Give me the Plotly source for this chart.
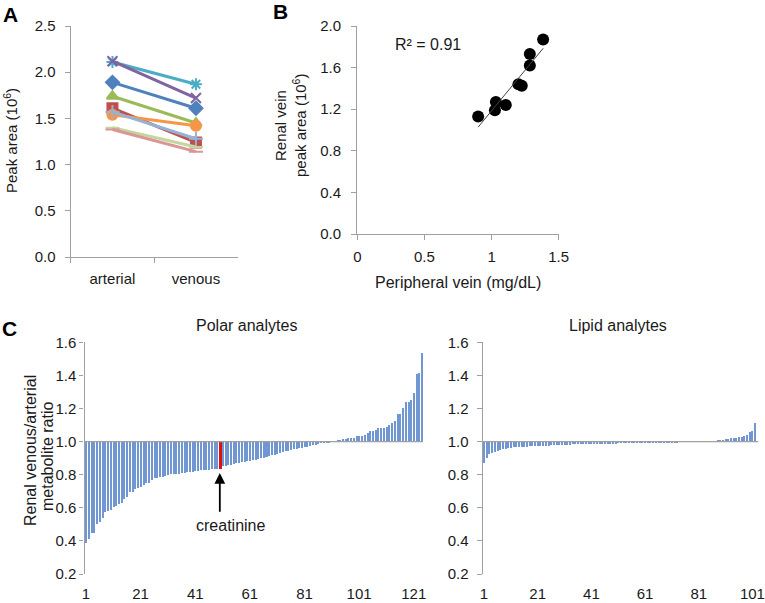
import numpy as np
import plotly.graph_objects as go

W, H = 765, 603
FONT = "Liberation Sans, Arial, sans-serif"
AXIS_COLOR = "#A0A0A0"
TXT = "#1a1a1a"

# ---------------- Panel A data ----------------
conditions = ["arterial", "venous"]
a_arterial = [2.11, 2.12, 1.89, 1.74, 1.61, 1.54, 1.57, 1.40, 1.38]
a_venous = [1.87, 1.72, 1.61, 1.45, 1.24, 1.42, 1.28, 1.19, 1.14]
a_colors = ["#4BACC6", "#8064A2", "#4F81BD", "#9BBB59", "#C0504D",
            "#F79646", "#95B3D7", "#C3D69B", "#D99694"]
a_symbols = ["asterisk-open", "x-thin-open", "diamond", "triangle-up", "square",
             "circle", "cross-thin-open", "line-ew-open", "line-ew-open"]

# ---------------- Panel B data ----------------
b_peripheral = [0.90, 1.025, 1.032, 1.106, 1.20, 1.225, 1.285, 1.285, 1.384]
b_renal = [1.13, 1.19, 1.27, 1.24, 1.44, 1.425, 1.62, 1.73, 1.87]
b_r2_text = "R² = 0.91"

# ---------------- Panel C data ----------------
polar_ratio = [
    0.384, 0.41, 0.444, 0.448, 0.498, 0.51, 0.539, 0.57, 0.576, 0.584,
    0.606, 0.61, 0.622, 0.628, 0.654, 0.662, 0.692, 0.696, 0.712, 0.72,
    0.726, 0.736, 0.746, 0.75, 0.766, 0.776, 0.78, 0.784, 0.786, 0.79,
    0.797, 0.80, 0.80, 0.802, 0.805, 0.807, 0.81, 0.812, 0.815, 0.817,
    0.82, 0.822, 0.824, 0.826, 0.828, 0.829, 0.83, 0.831, 0.832, 0.832,
    0.85, 0.853, 0.856, 0.859, 0.862, 0.866, 0.869, 0.873, 0.876, 0.88,
    0.884, 0.887, 0.89, 0.894, 0.898, 0.902, 0.906, 0.91, 0.915, 0.92,
    0.925, 0.93, 0.935, 0.939, 0.943, 0.947, 0.951, 0.955, 0.959, 0.962,
    0.965, 0.968, 0.972, 0.975, 0.979, 0.983, 0.987, 0.99, 0.993, 0.995,
    0.997, 0.999,
    1.005, 1.008, 1.012, 1.015, 1.02, 1.02, 1.02, 1.03, 1.03, 1.035,
    1.04, 1.05, 1.06, 1.065, 1.07, 1.08, 1.08, 1.08, 1.085, 1.097,
    1.11, 1.12, 1.165, 1.165, 1.2, 1.24, 1.24, 1.25, 1.29, 1.407,
    1.41, 1.532,
]
creatinine_index = 50  # 1-based position of creatinine

lipid_ratio = [
    0.867, 0.897, 0.923, 0.931, 0.937, 0.94, 0.945, 0.952, 0.956, 0.96,
    0.962, 0.963, 0.965, 0.966, 0.967, 0.968, 0.968, 0.969, 0.97, 0.97,
    0.971, 0.972, 0.972, 0.973, 0.974, 0.975, 0.976, 0.977, 0.978, 0.978,
    0.979, 0.98, 0.98,
    0.981, 0.981, 0.982, 0.982, 0.982, 0.983, 0.983, 0.983, 0.984, 0.984,
    0.984, 0.985, 0.985, 0.985, 0.986, 0.986, 0.986, 0.987, 0.987, 0.987,
    0.988, 0.988, 0.988, 0.989, 0.989, 0.989, 0.99, 0.99, 0.99, 0.991,
    0.991, 0.991, 0.992, 0.992, 0.992, 0.993, 0.993, 0.994, 0.994, 0.995,
    0.996, 0.996, 0.997, 0.997, 0.998, 0.998, 0.999, 0.999, 0.999, 1.0,
    1.0, 1.0, 1.0, 1.001,
    1.005, 1.007, 1.009, 1.012, 1.015, 1.018, 1.02, 1.022, 1.025, 1.028,
    1.03, 1.04, 1.055, 1.06, 1.11,
]
polar_ticks = [1, 21, 41, 61, 81, 101, 121]
lipid_ticks = [1, 21, 41, 61, 81, 101]
ratio_ticks = [0.2, 0.4, 0.6, 0.8, 1.0, 1.2, 1.4, 1.6]
BASELINE = 1.0

BAR_BLUE = "#7097D1"
CREAT_RED = "#E01010"


def fx(px):
    return px / W


def fy(py):
    return 1 - py / H


fig = go.Figure()

# ---------- Panel A ----------
for i in range(len(a_arterial)):
    fig.add_trace(go.Scatter(
        x=conditions, y=[a_arterial[i], a_venous[i]],
        mode="lines+markers", xaxis="x", yaxis="y",
        line=dict(color=a_colors[i], width=3),
        marker=dict(symbol=a_symbols[i], size=10, color=a_colors[i],
                    line=dict(color=a_colors[i], width=2)),
        showlegend=False, hoverinfo="skip",
    ))

# ---------- Panel B ----------
fig.add_trace(go.Scatter(
    x=b_peripheral, y=b_renal, mode="markers", xaxis="x2", yaxis="y2",
    marker=dict(color="black", size=12), showlegend=False,
))
slope, intercept = np.polyfit(b_peripheral, b_renal, 1)
fit_x = [min(b_peripheral), max(b_peripheral)]
fig.add_trace(go.Scatter(
    x=fit_x, y=[slope * v + intercept for v in fit_x], mode="lines",
    xaxis="x2", yaxis="y2", line=dict(color="#404040", width=1),
    showlegend=False,
))

# ---------- Panel C ----------
polar_x = list(range(1, len(polar_ratio) + 1))
polar_colors = [CREAT_RED if k == creatinine_index else BAR_BLUE for k in polar_x]
polar_width = [1.25 if k == creatinine_index else 0.55 for k in polar_x]
fig.add_trace(go.Bar(
    x=polar_x, y=[v - BASELINE for v in polar_ratio], base=BASELINE,
    xaxis="x3", yaxis="y3", marker=dict(color=polar_colors, line=dict(width=0)),
    width=polar_width, showlegend=False,
))

lipid_x = list(range(1, len(lipid_ratio) + 1))
fig.add_trace(go.Bar(
    x=lipid_x, y=[v - BASELINE for v in lipid_ratio], base=BASELINE,
    xaxis="x4", yaxis="y4", marker=dict(color=BAR_BLUE, line=dict(width=0)),
    width=0.55, showlegend=False,
))

tick_font = dict(family=FONT, size=15, color=TXT)
axis_common = dict(showgrid=False, zeroline=False, showline=True,
                   automargin=False,
                   linecolor=AXIS_COLOR, linewidth=1.3, tickfont=tick_font,
                   ticks="outside", ticklen=5, tickcolor=AXIS_COLOR, tickwidth=1.3)
bottom_cat = dict(showline=False, showgrid=False, zeroline=False,
                  automargin=False, ticks="outside", ticklen=6,
                  tickcolor="rgba(0,0,0,0)", tickfont=tick_font,
                  ticklabeloverflow="allow")

fig.update_layout(
    width=W, height=H, margin=dict(l=0, r=0, t=0, b=0, pad=0),
    paper_bgcolor="white", plot_bgcolor="white",
    font=dict(family=FONT, size=15, color=TXT),
    bargap=0,
    xaxis=dict(axis_common, domain=[fx(70.7), fx(237.7)], anchor="y",
               type="category", range=[-0.5, 1.5], tickson="boundaries",
               ticklabelstandoff=8),
    yaxis=dict(axis_common, domain=[fy(257), fy(26)], anchor="x",
               range=[0, 2.5], dtick=0.5, tickformat=".1f",
               ticklabelstandoff=6),
    xaxis2=dict(axis_common, domain=[fx(357.3), fx(558.7)], anchor="y2",
                range=[0, 1.5], tickvals=[0, 0.5, 1, 1.5],
                ticktext=["0", "0.5", "1", "1.5"], ticklabelstandoff=4),
    yaxis2=dict(axis_common, domain=[fy(234), fy(26)], anchor="x2",
                range=[0, 2.0], dtick=0.4, tickformat=".1f",
                ticklabelstandoff=7),
    xaxis3=dict(bottom_cat, domain=[fx(84.5), fx(423)], anchor="y3",
                range=[0.45, 124.4], tickvals=polar_ticks),
    yaxis3=dict(axis_common, domain=[fy(574), fy(342.3)], anchor="x3",
                range=[0.2, 1.6], tickvals=ratio_ticks, tickformat=".1f",
                ticklen=4, ticklabelstandoff=0),
    xaxis4=dict(bottom_cat, domain=[fx(482.7), fx(758.3)], anchor="y4",
                range=[0.5, 103.2], tickvals=lipid_ticks),
    yaxis4=dict(axis_common, domain=[fy(574), fy(342.3)], anchor="x4",
                range=[0.2, 1.6], tickvals=ratio_ticks, tickformat=".1f",
                ticklabelstandoff=5),
)

# baseline lines at ratio 1.0
for xa, ya in (("x3", "y3"), ("x4", "y4")):
    fig.add_shape(type="line", xref=f"{xa} domain", yref=ya,
                  x0=0, x1=1, y0=BASELINE, y1=BASELINE,
                  line=dict(color=AXIS_COLOR, width=1.3), layer="above")


def label(text, x, y, size=16, angle=0, bold=False):
    return dict(text=f"<b>{text}</b>" if bold else text, x=fx(x), y=fy(y),
                xref="paper", yref="paper", xanchor="center", yanchor="middle",
                textangle=angle, showarrow=False,
                font=dict(family=FONT, size=size, color="black" if bold else TXT))


ann = [
    label("A", 10, 14.5, 21, bold=True),
    label("B", 280, 11.5, 21, bold=True),
    label("C", 9.5, 328, 21, bold=True),
    label("Peak area (10<sup>6</sup>)", 11, 141, 15, angle=-90),
    label("Renal vein", 281, 126, 15, angle=-90),
    label("peak area (10<sup>6</sup>)", 300, 126, 15, angle=-90),
    label("Peripheral vein (mg/dL)", 458, 282, 16),
    label(b_r2_text, 428, 45, 16),
    label("Renal venous/arterial", 30, 451, 16, angle=-90),
    label("metabolite ratio", 47, 457, 16, angle=-90),
    label("Polar analytes", 246, 325, 16),
    label("Lipid analytes", 618, 325, 16),
]
# creatinine arrow and label
ann.append(dict(x=creatinine_index, y=0.81, xref="x3", yref="y3",
                ax=creatinine_index, ay=0.567, axref="x3", ayref="y3",
                showarrow=True, arrowhead=2, arrowsize=1.2, arrowwidth=1.8,
                arrowcolor="black", text=""))
ann.append(dict(x=creatinine_index + 4, y=0.495, xref="x3", yref="y3",
                text="creatinine", showarrow=False, xanchor="center",
                yanchor="middle", font=dict(family=FONT, size=16, color=TXT)))
fig.update_layout(annotations=ann)

fig.write_html("out.html", config={"displayModeBar": False},
               post_script="document.body.style.margin='0px';")
